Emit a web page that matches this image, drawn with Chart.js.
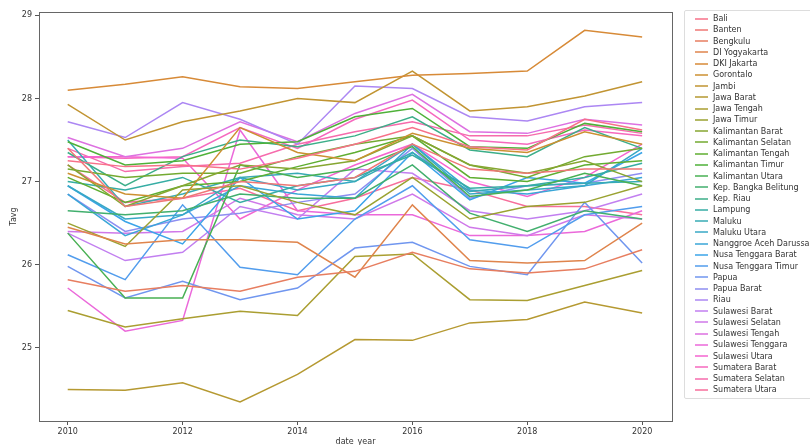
<!DOCTYPE html>
<html lang="en">
<head>
<meta charset="UTF-8">
<title>Tavg per province</title>
<script src="https://cdn.jsdelivr.net/npm/chart.js"></script>
<style>
  body { margin: 0; background: #fff; }
  #wrap { position: relative; width: 810px; height: 445px; overflow: hidden; }
  #legend {
    position: absolute; left: 684px; top: 10px; width: 130px;
    border: 1px solid #ddd; border-radius: 2px; background: #fff;
    padding: 2px 0 2px 0; font-family: "DejaVu Sans", sans-serif; font-size: 8px; color: #333;
  }
  #legend div { height: 11.25px; line-height: 11.25px; white-space: nowrap; }
  #legend canvas { vertical-align: middle; margin: 0 5px 0 10px; }
</style>
</head>
<body>
<div id="wrap">
  <canvas id="tavgChart" width="810" height="445"></canvas>
  <div id="legend"></div>
</div>
<script>
    const years = [2010, 2011, 2012, 2013, 2014, 2015, 2016, 2017, 2018, 2019, 2020];
    const yTicks = [25, 26, 27, 28, 29];
    const xTicks = [2010, 2012, 2014, 2016, 2018, 2020];

    const provinces = ['Bali', 'Banten', 'Bengkulu', 'DI Yogyakarta', 'DKI Jakarta', 'Gorontalo', 'Jambi',
        'Jawa Barat', 'Jawa Tengah', 'Jawa Timur', 'Kalimantan Barat', 'Kalimantan Selatan', 'Kalimantan Tengah',
        'Kalimantan Timur', 'Kalimantan Utara', 'Kep. Bangka Belitung', 'Kep. Riau', 'Lampung', 'Maluku',
        'Maluku Utara', 'Nanggroe Aceh Darussalam', 'Nusa Tenggara Barat', 'Nusa Tenggara Timur', 'Papua',
        'Papua Barat', 'Riau', 'Sulawesi Barat', 'Sulawesi Selatan', 'Sulawesi Tengah', 'Sulawesi Tenggara',
        'Sulawesi Utara', 'Sumatera Barat', 'Sumatera Selatan', 'Sumatera Utara'];

    // yearly average temperature, 2010..2020
    const bali            = [27.25, 27.18, 27.20, 27.15, 27.28, 27.45, 27.65, 27.42, 27.38, 27.75, 27.62];
    const banten          = [27.40, 26.70, 26.80, 27.00, 26.95, 27.05, 27.45, 27.15, 27.10, 27.15, 27.15];
    const bengkulu        = [25.82, 25.68, 25.75, 25.68, 25.85, 25.92, 26.15, 25.95, 25.90, 25.95, 26.18];
    const diYogyakarta    = [26.45, 26.25, 26.30, 26.30, 26.27, 25.85, 26.72, 26.05, 26.02, 26.05, 26.50];
    const dkiJakarta      = [28.10, 28.17, 28.26, 28.14, 28.12, 28.20, 28.28, 28.30, 28.33, 28.82, 28.74];
    const gorontalo       = [27.10, 26.85, 26.80, 27.65, 27.35, 27.25, 27.58, 27.40, 27.35, 27.60, 27.45];
    const jambi           = [27.93, 27.50, 27.72, 27.85, 28.00, 27.95, 28.33, 27.85, 27.90, 28.03, 28.20];
    const jawaBarat       = [24.50, 24.49, 24.58, 24.35, 24.68, 25.10, 25.09, 25.30, 25.34, 25.55, 25.42];
    const jawaTengah      = [25.45, 25.25, 25.35, 25.44, 25.39, 26.10, 26.13, 25.58, 25.57, 25.75, 25.93];
    const jawaTimur       = [26.50, 26.22, 26.90, 26.95, 26.75, 26.60, 27.05, 26.55, 26.70, 26.75, 26.95];
    const kalBarat        = [27.20, 26.70, 26.95, 27.20, 27.15, 27.25, 27.55, 27.20, 27.10, 27.25, 27.00];
    const kalSelatan      = [27.15, 27.05, 27.10, 27.10, 27.30, 27.45, 27.55, 27.20, 27.05, 27.30, 27.40];
    const kalTengah       = [27.05, 26.75, 26.95, 27.00, 27.18, 27.35, 27.55, 27.05, 27.00, 27.20, 27.25];
    const kalTimur        = [27.48, 27.20, 27.25, 27.45, 27.48, 27.78, 27.88, 27.42, 27.40, 27.70, 27.60];
    const kalUtara        = [26.38, 25.60, 25.60, 27.20, 27.05, 27.15, 27.42, 26.82, 26.90, 27.10, 26.95];
    const bangkaBelitung  = [26.65, 26.60, 26.65, 26.85, 26.80, 26.80, 27.20, 26.62, 26.40, 26.65, 26.55];
    const kepRiau         = [27.35, 26.95, 27.30, 27.50, 27.42, 27.55, 27.78, 27.38, 27.30, 27.65, 27.40];
    const lampung         = [27.00, 26.90, 27.05, 26.75, 26.95, 27.05, 27.32, 26.92, 26.95, 27.05, 27.22];
    const maluku          = [27.50, 26.70, 26.85, 27.05, 27.10, 27.00, 27.35, 26.88, 26.95, 26.98, 27.00];
    const malukuUtara     = [26.95, 26.55, 26.60, 27.05, 26.90, 27.00, 27.45, 26.85, 26.90, 26.95, 27.40];
    const aceh            = [26.85, 26.35, 26.60, 26.95, 26.85, 26.80, 27.45, 26.90, 26.85, 26.95, 27.05];
    const ntb             = [26.95, 26.52, 26.25, 27.05, 26.55, 26.65, 27.35, 26.78, 27.05, 26.98, 27.35];
    const ntt             = [26.12, 25.82, 26.72, 25.97, 25.88, 26.55, 26.95, 26.30, 26.20, 26.60, 26.70];
    const papua           = [25.98, 25.60, 25.80, 25.58, 25.72, 26.20, 26.27, 25.98, 25.88, 26.75, 26.02];
    const papuaBarat      = [26.85, 26.40, 26.55, 26.62, 26.75, 26.85, 27.40, 26.80, 26.95, 26.98, 27.10];
    const riau            = [27.72, 27.53, 27.95, 27.75, 27.45, 28.15, 28.12, 27.78, 27.73, 27.90, 27.95];
    const sulBarat        = [26.38, 26.05, 26.15, 26.70, 26.55, 27.15, 27.10, 26.65, 26.55, 26.65, 26.85];
    const sulSelatan      = [26.40, 26.38, 26.40, 26.80, 26.60, 26.55, 26.85, 26.45, 26.35, 26.60, 26.55];
    const sulTengah       = [27.53, 27.30, 27.40, 27.72, 27.48, 27.82, 28.05, 27.60, 27.58, 27.75, 27.68];
    const sulTenggara     = [25.72, 25.20, 25.33, 27.62, 26.65, 26.60, 26.60, 26.35, 26.35, 26.40, 26.65];
    const sulUtara        = [27.30, 27.30, 27.28, 26.55, 26.90, 27.20, 27.45, 27.00, 26.82, 27.05, 27.45];
    const sumBarat        = [27.30, 27.28, 27.30, 27.65, 27.40, 27.75, 27.98, 27.50, 27.45, 27.62, 27.55];
    const sumSelatan      = [27.40, 27.12, 27.18, 27.22, 27.45, 27.60, 27.72, 27.55, 27.55, 27.68, 27.58];
    const sumUtara        = [27.20, 26.75, 26.80, 26.92, 26.65, 26.80, 27.05, 26.90, 26.70, 26.70, 26.60];

    const series = [bali, banten, bengkulu, diYogyakarta, dkiJakarta, gorontalo, jambi, jawaBarat, jawaTengah,
        jawaTimur, kalBarat, kalSelatan, kalTengah, kalTimur, kalUtara, bangkaBelitung, kepRiau, lampung, maluku,
        malukuUtara, aceh, ntb, ntt, papua, papuaBarat, riau, sulBarat, sulSelatan, sulTengah, sulTenggara,
        sulUtara, sumBarat, sumSelatan, sumUtara];

    // husl-like palette, blended between 8 anchor colours
    const anchors = ['#f77189', '#d58c32', '#a4a031', '#50b131', '#36ada4', '#3ba3ec', '#bb83f4', '#f564d4'];
    const hexToRgb = h => [1, 3, 5].map(i => parseInt(h.substr(i, 2), 16));
    const paletteColor = (k, n) => {
        const t = k / n * anchors.length;
        const i = Math.floor(t), f = t - i;
        const a = hexToRgb(anchors[i % anchors.length]);
        const b = hexToRgb(anchors[(i + 1) % anchors.length]);
        const c = a.map((v, j) => Math.round(v + (b[j] - v) * f));
        return 'rgb(' + c.join(',') + ')';
    };

    const datasets = provinces.map((name, k) => ({
        label: name,
        data: years.map((yr, i) => ({ x: yr, y: series[k][i] })),
        borderColor: paletteColor(k, provinces.length),
        backgroundColor: paletteColor(k, provinces.length),
        borderWidth: 1.5,
        pointRadius: 0,
        tension: 0,
        fill: false
    }));

    // frame around the plot area like matplotlib spines
    const frame = {
        id: 'frame',
        afterDraw(chart) {
            const { ctx, chartArea: a } = chart;
            ctx.save();
            ctx.strokeStyle = '#666';
            ctx.lineWidth = 1;
            ctx.strokeRect(a.left + 0.5, a.top + 0.5, a.right - a.left, a.bottom - a.top);
            ctx.restore();
        }
    };

    const tickFont = { family: 'DejaVu Sans', size: 8 };

    new Chart(document.getElementById('tavgChart').getContext('2d'), {
        type: 'line',
        data: { datasets: datasets },
        options: {
            responsive: false,
            animation: false,
            layout: { padding: { left: 0, right: 138, top: 12, bottom: 0 } },
            plugins: { legend: { display: false }, tooltip: { enabled: false } },
            scales: {
                x: {
                    type: 'linear',
                    min: 2009.5,
                    max: 2020.52,
                    afterBuildTicks: s => { s.ticks = xTicks.map(v => ({ value: v })); },
                    afterFit: s => { s.height = 24; },
                    ticks: { font: tickFont, color: '#333', padding: 2, callback: v => String(v) },
                    grid: { drawOnChartArea: false, tickLength: 4, color: '#555' },
                    border: { display: false },
                    title: { display: true, text: 'date_year', font: tickFont, color: '#333', padding: { top: 0, bottom: -2 } }
                },
                y: {
                    min: 24.12,
                    max: 29.04,
                    afterBuildTicks: s => { s.ticks = yTicks.map(v => ({ value: v })); },
                    afterFit: s => { s.width = 39; },
                    ticks: { font: tickFont, color: '#333', padding: 3 },
                    grid: { drawOnChartArea: false, tickLength: 4, color: '#555' },
                    border: { display: false },
                    title: { display: true, text: 'Tavg', font: tickFont, color: '#333', padding: { top: 9, bottom: 0 } }
                }
            }
        },
        plugins: [frame]
    });

    // legend outside the plot, on the right; each swatch is a tiny canvas line
    const legend = document.getElementById('legend');
    datasets.forEach(d => {
        const row = document.createElement('div');
        const sw = document.createElement('canvas');
        sw.width = 13; sw.height = 4;
        const c = sw.getContext('2d');
        c.strokeStyle = d.borderColor;
        c.lineWidth = 1.5;
        c.beginPath(); c.moveTo(0, 2); c.lineTo(13, 2); c.stroke();
        row.appendChild(sw);
        row.appendChild(document.createTextNode(d.label));
        legend.appendChild(row);
    });
</script>
</body>
</html>
